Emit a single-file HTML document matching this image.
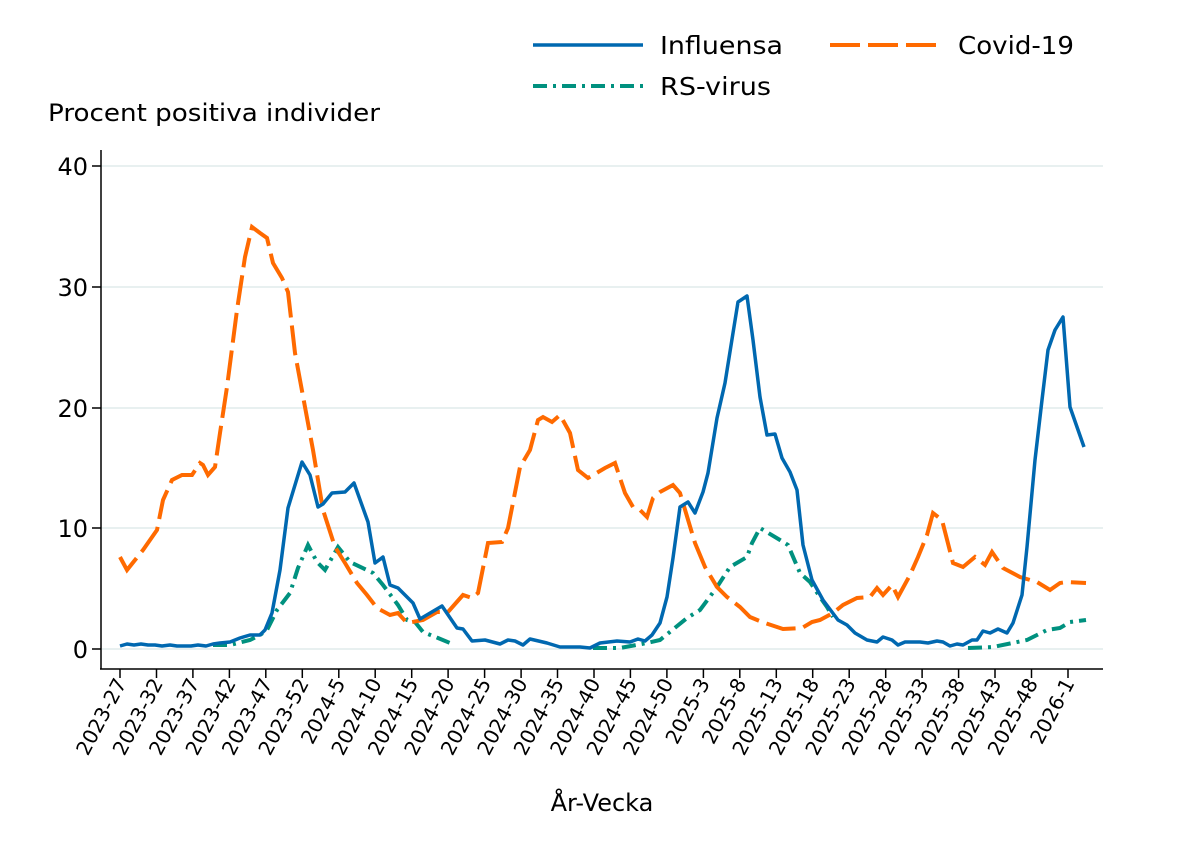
<!DOCTYPE html>
<html><head><meta charset="utf-8"><style>
html,body{margin:0;padding:0;background:#fff;}
svg{display:block;font-family:"DejaVu Sans","Liberation Sans",sans-serif;}
</style></head><body>
<svg width="1177" height="856" viewBox="0 0 1177 856" xmlns="http://www.w3.org/2000/svg">
<rect width="1177" height="856" fill="#fff"/>
<g stroke="#e8f0f0" stroke-width="2">
<line x1="101" y1="166" x2="1103" y2="166"/>
<line x1="101" y1="287" x2="1103" y2="287"/>
<line x1="101" y1="408" x2="1103" y2="408"/>
<line x1="101" y1="528" x2="1103" y2="528"/>
<line x1="101" y1="649" x2="1103" y2="649"/>
</g>
<g stroke="#000" stroke-width="1.5" fill="none">
<line x1="101" y1="150" x2="101" y2="669"/>
<line x1="100" y1="669" x2="1103" y2="669"/>
<line x1="92" y1="166" x2="101" y2="166"/>
<line x1="92" y1="287" x2="101" y2="287"/>
<line x1="92" y1="408" x2="101" y2="408"/>
<line x1="92" y1="528" x2="101" y2="528"/>
<line x1="92" y1="649" x2="101" y2="649"/>
</g>
<g font-size="24" text-anchor="end" fill="#000">
<text x="88" y="175">40</text><text x="88" y="296">30</text><text x="88" y="417">20</text><text x="88" y="537">10</text><text x="88" y="658">0</text>
</g>
<text x="48" y="121" font-size="24" textLength="332" lengthAdjust="spacingAndGlyphs">Procent positiva individer</text>
<text x="602" y="811" font-size="24" text-anchor="middle">År-Vecka</text>
<g stroke="#000" stroke-width="1.5">
<line x1="120" y1="669" x2="120" y2="678"/><line x1="156.5" y1="669" x2="156.5" y2="678"/><line x1="192.9" y1="669" x2="192.9" y2="678"/><line x1="229.4" y1="669" x2="229.4" y2="678"/><line x1="265.8" y1="669" x2="265.8" y2="678"/><line x1="302.3" y1="669" x2="302.3" y2="678"/><line x1="338.8" y1="669" x2="338.8" y2="678"/><line x1="375.2" y1="669" x2="375.2" y2="678"/><line x1="411.7" y1="669" x2="411.7" y2="678"/><line x1="448.1" y1="669" x2="448.1" y2="678"/><line x1="484.6" y1="669" x2="484.6" y2="678"/><line x1="521.1" y1="669" x2="521.1" y2="678"/><line x1="557.5" y1="669" x2="557.5" y2="678"/><line x1="594" y1="669" x2="594" y2="678"/><line x1="630.4" y1="669" x2="630.4" y2="678"/><line x1="666.9" y1="669" x2="666.9" y2="678"/><line x1="703.4" y1="669" x2="703.4" y2="678"/><line x1="739.8" y1="669" x2="739.8" y2="678"/><line x1="776.3" y1="669" x2="776.3" y2="678"/><line x1="812.7" y1="669" x2="812.7" y2="678"/><line x1="849.2" y1="669" x2="849.2" y2="678"/><line x1="885.7" y1="669" x2="885.7" y2="678"/><line x1="922.1" y1="669" x2="922.1" y2="678"/><line x1="958.6" y1="669" x2="958.6" y2="678"/><line x1="995" y1="669" x2="995" y2="678"/><line x1="1031.5" y1="669" x2="1031.5" y2="678"/><line x1="1068" y1="669" x2="1068" y2="678"/>
</g>
<g font-size="20" text-anchor="end" fill="#000">
<text transform="translate(127,683) rotate(-62)">2023-27</text>
<text transform="translate(163.5,683) rotate(-62)">2023-32</text>
<text transform="translate(199.9,683) rotate(-62)">2023-37</text>
<text transform="translate(236.4,683) rotate(-62)">2023-42</text>
<text transform="translate(272.8,683) rotate(-62)">2023-47</text>
<text transform="translate(309.3,683) rotate(-62)">2023-52</text>
<text transform="translate(345.8,683) rotate(-62)">2024-5</text>
<text transform="translate(382.2,683) rotate(-62)">2024-10</text>
<text transform="translate(418.7,683) rotate(-62)">2024-15</text>
<text transform="translate(455.1,683) rotate(-62)">2024-20</text>
<text transform="translate(491.6,683) rotate(-62)">2024-25</text>
<text transform="translate(528.1,683) rotate(-62)">2024-30</text>
<text transform="translate(564.5,683) rotate(-62)">2024-35</text>
<text transform="translate(601,683) rotate(-62)">2024-40</text>
<text transform="translate(637.4,683) rotate(-62)">2024-45</text>
<text transform="translate(673.9,683) rotate(-62)">2024-50</text>
<text transform="translate(710.4,683) rotate(-62)">2025-3</text>
<text transform="translate(746.8,683) rotate(-62)">2025-8</text>
<text transform="translate(783.3,683) rotate(-62)">2025-13</text>
<text transform="translate(819.7,683) rotate(-62)">2025-18</text>
<text transform="translate(856.2,683) rotate(-62)">2025-23</text>
<text transform="translate(892.7,683) rotate(-62)">2025-28</text>
<text transform="translate(929.1,683) rotate(-62)">2025-33</text>
<text transform="translate(965.6,683) rotate(-62)">2025-38</text>
<text transform="translate(1002,683) rotate(-62)">2025-43</text>
<text transform="translate(1038.5,683) rotate(-62)">2025-48</text>
<text transform="translate(1075,683) rotate(-62)">2026-1</text>
</g>
<polyline fill="none" stroke="#00917f" stroke-width="4" stroke-dasharray="14 6 3 6" points="213,645 230,645 250,640 260,635 267,630 277,610 290,593 298,568 308,545 317,562 325,570 338,547 350,562 373,573 383,585 398,605 407,620 415,622 423,632 438,638 450,643"/>
<polyline fill="none" stroke="#00917f" stroke-width="4" stroke-dasharray="14 6 3 6" points="593,648 620,648 647,643 660,640 687,618 700,610 717,587 730,567 747,557 752,543 760,528 780,540 788,545 800,573 810,582 820,597 827,607 833,617"/>
<polyline fill="none" stroke="#00917f" stroke-width="4" stroke-dasharray="14 6 3 6" points="968,648 993,647 1027,640 1047,630 1060,628 1070,622 1086,620"/>
<polyline fill="none" stroke="#ff6a00" stroke-width="4" stroke-dasharray="30 8" points="120,557 127,570 143,550 157,530 163,500 172,480 182,475 192,475 200,463 203,465 208,475 215,467 220,433 227,387 237,310 245,257 252,227 260,233 267,238 273,263 282,278 288,292 295,353 305,407 313,450 323,510 335,547 345,563 357,583 367,595 377,608 390,615 398,613 407,623 423,620 437,612 448,612 463,595 472,598 478,593 488,543 502,542 508,528 520,467 530,450 538,420 543,417 552,422 560,415 570,433 578,470 588,478 605,468 615,463 625,493 633,507 640,510 647,517 653,498 660,492 673,485 680,493 695,543 705,567 717,587 727,597 740,607 750,617 762,622 777,627 783,629 802,628 812,622 820,620 833,613 843,605 857,598 870,597 877,588 883,595 892,585 898,597 910,575 918,557 927,535 933,513 942,520 953,563 963,567 975,557 985,565 992,552 1003,568 1020,577 1037,582 1050,590 1060,583 1067,582 1086,583"/>
<polyline fill="none" stroke="#0068b0" stroke-width="3.5" stroke-linejoin="round" points="120,646 127,644 134,645 141,644 148,645 155,645 162,646 170,645 177,646 184,646 191,646 198,645 206,646 213,644 220,643 230,642 240,638 250,635 260,635 265,630 272,613 280,570 288,508 302,462 310,475 318,507 323,504 332,493 345,492 354,483 368,522 375,563 383,557 390,585 398,588 413,603 420,619 442,606 457,628 463,629 472,641 485,640 500,644 508,640 515,641 523,645 530,639 547,643 560,647 580,647 590,648 600,643 617,641 630,642 638,639 645,641 652,635 660,623 667,597 673,558 680,507 688,502 695,513 703,492 708,473 717,418 725,383 733,333 738,302 747,296 753,340 760,397 767,435 775,434 782,458 790,472 797,490 803,545 812,580 823,600 838,620 847,625 855,633 867,640 877,642 883,637 892,640 898,645 905,642 920,642 928,643 937,641 943,642 950,646 957,644 963,645 972,640 977,640 983,631 990,633 998,629 1007,633 1013,623 1022,595 1027,547 1035,460 1042,400 1048,350 1055,330 1063,317 1070,407 1084,447"/>
<line x1="533" y1="45" x2="643" y2="45" stroke="#0068b0" stroke-width="3.5"/>
<text x="660" y="54" font-size="25" textLength="123" lengthAdjust="spacingAndGlyphs">Influensa</text>
<line x1="830" y1="45" x2="940" y2="45" stroke="#ff6a00" stroke-width="4" stroke-dasharray="30 8"/>
<text x="958" y="54" font-size="25" textLength="116" lengthAdjust="spacingAndGlyphs">Covid-19</text>
<line x1="533" y1="86" x2="643" y2="86" stroke="#00917f" stroke-width="4" stroke-dasharray="14 6 3 6"/>
<text x="660" y="95" font-size="25" textLength="111" lengthAdjust="spacingAndGlyphs">RS-virus</text>
</svg>
</body></html>
